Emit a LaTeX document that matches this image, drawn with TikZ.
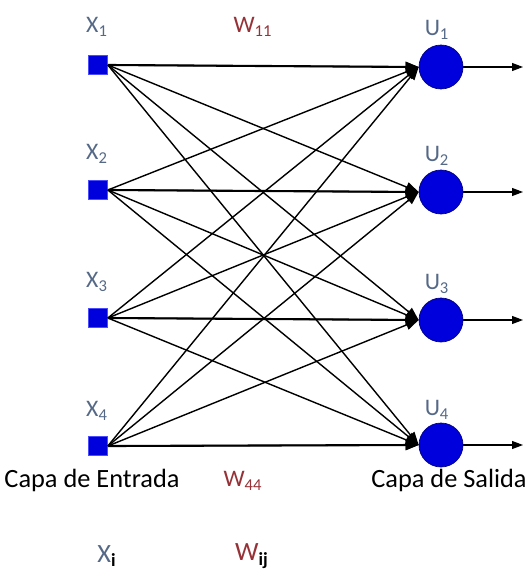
\documentclass[tikz,border=0pt]{standalone}
\usepackage{fontspec}
\setmainfont{Carlito}
\usetikzlibrary{arrows.meta}

\definecolor{inblue}{RGB}{0,0,220}
\definecolor{labgray}{RGB}{85,105,135}
\definecolor{wred}{RGB}{150,50,55}

\tikzset{
  inbox/.style={rectangle, fill=inblue, draw=blue!70, minimum size=0.38cm, inner sep=0pt},
  outnode/.style={circle, fill=inblue, draw=blue!50!black, minimum size=0.88cm, inner sep=0pt},
  link/.style={black, line width=0.8pt, -{Triangle[length=0.26cm, width=0.2cm]}},
  outarrow/.style={black, line width=0.6pt, -{Triangle[length=0.22cm, width=0.16cm]}},
  xlabel/.style={text=labgray, font=\fontsize{13.5}{15}\selectfont},
  wlabel/.style={text=wred, font=\fontsize{13.5}{15}\selectfont},
  caption/.style={font=\fontsize{15}{18}\selectfont}
}

\begin{document}
\begin{tikzpicture}[x=0.02cm, y=-0.02cm]
        \useasboundingbox (0,0) rectangle (530,571);

        % capa de entrada
        \node[inbox] (x1) at (98,65) {};
        \node[inbox] (x2) at (98,190) {};
        \node[inbox] (x3) at (98,318) {};
        \node[inbox] (x4) at (98,446) {};

        % capa de salida
        \node[outnode] (u1) at (441,67) {};
        \node[outnode] (u2) at (441,192) {};
        \node[outnode] (u3) at (441,320) {};
        \node[outnode] (u4) at (441,445) {};

        % pesos: todas las entradas a todas las salidas
        \foreach \i in {1,...,4}
            \foreach \j in {1,...,4}
                \draw[link] (x\i.east) -- (u\j.west);
        % las horizontales un poco mas gruesas
        \foreach \i in {1,...,4}
            \draw[link, line width=1.2pt] (x\i.east) -- (u\i.west);

        % salidas
        \coordinate (o1) at (523,67);
        \coordinate (o2) at (523,192);
        \coordinate (o3) at (523,320);
        \coordinate (o4) at (523,445);
        \foreach \j in {1,...,4}
            \draw[outarrow] (u\j) -- (o\j);

        % etiquetas
        \node[xlabel] (lx1) at (97,27) {X\textsubscript{1}};
        \node[xlabel] (lx2) at (97,154) {X\textsubscript{2}};
        \node[xlabel] (lx3) at (97,282) {X\textsubscript{3}};
        \node[xlabel] (lx4) at (97,411) {X\textsubscript{4}};
        \node[xlabel] (lu1) at (437,30) {U\textsubscript{1}};
        \node[xlabel] (lu2) at (437,156) {U\textsubscript{2}};
        \node[xlabel] (lu3) at (437,284) {U\textsubscript{3}};
        \node[xlabel] (lu4) at (437,410) {U\textsubscript{4}};
        \node[wlabel] (w11) at (253,27) {W\textsubscript{11}};
        \node[wlabel] (w44) at (243,481) {W\textsubscript{44}};

        \node[caption] (entrada) at (92,480) {Capa de Entrada};
        \node[caption] (salida) at (449,480) {Capa de Salida};

        \node[xlabel, font=\fontsize{15}{18}\selectfont] (xi) at (107,556) {X\textsubscript{\textcolor{black}{\textbf{i}}}};
        \node[wlabel, font=\fontsize{15}{18}\selectfont] (wij) at (252,556) {W\textsubscript{\textcolor{black}{\textbf{ij}}}};

\end{tikzpicture}
\end{document}
